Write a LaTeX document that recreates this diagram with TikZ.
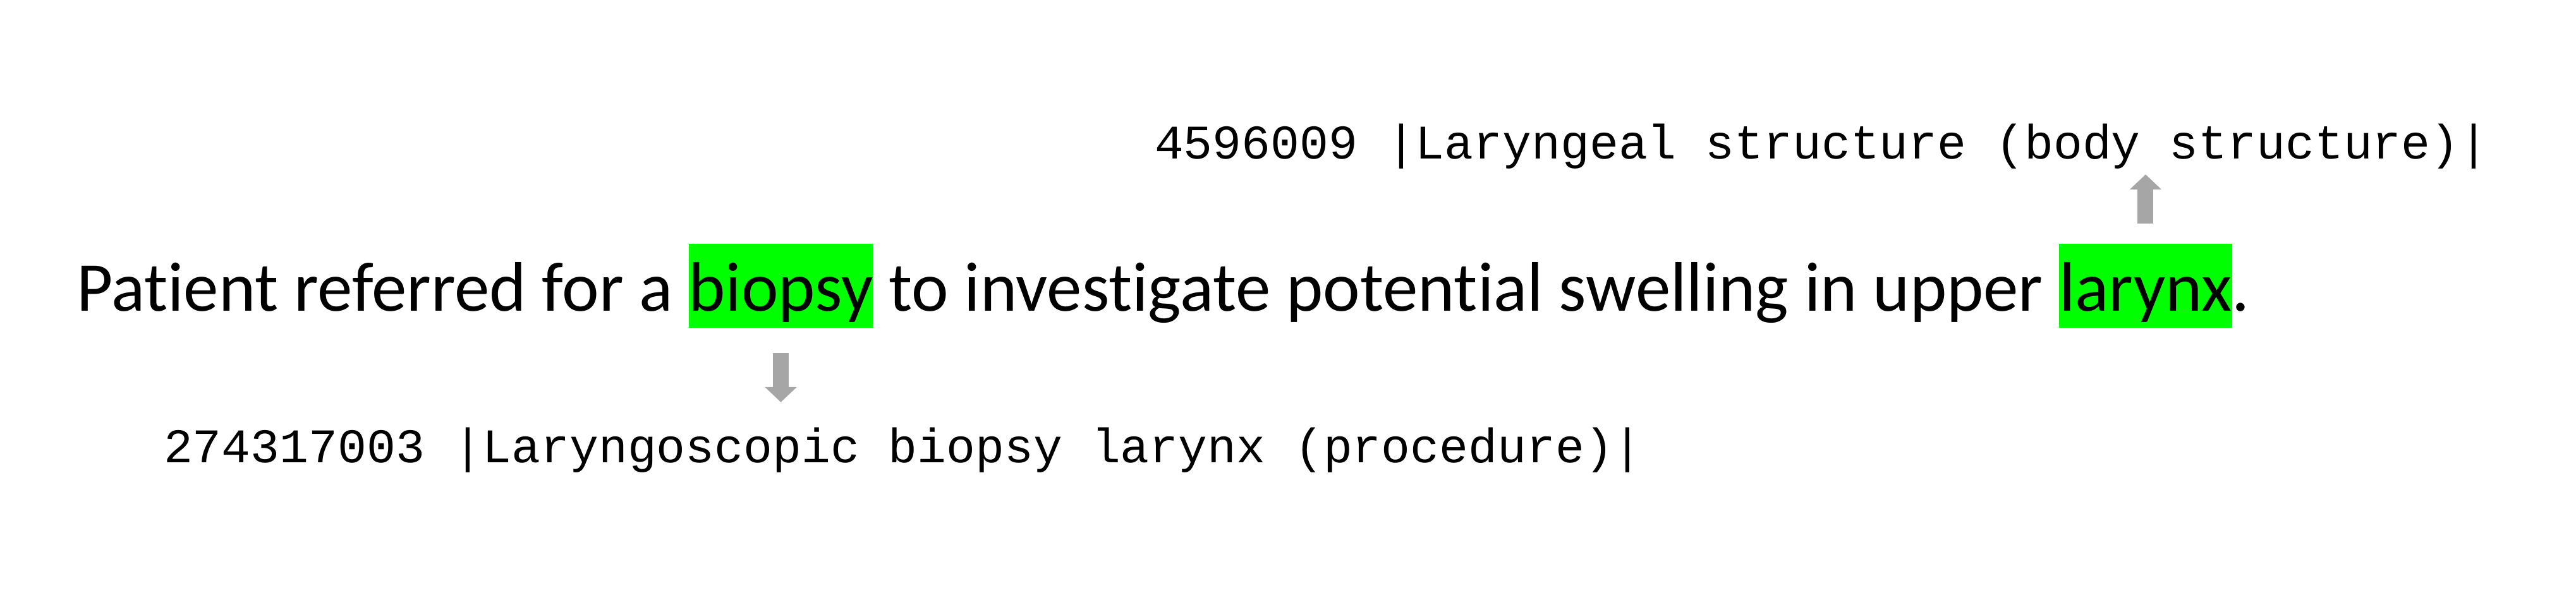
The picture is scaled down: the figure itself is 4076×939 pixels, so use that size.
\documentclass[tikz,border=0pt]{standalone}
\usepackage{fontspec}
\usepackage{tikz}
\usetikzlibrary{arrows.meta,positioning}
\newfontfamily\bodyfont{Carlito}[Ligatures={NoCommon}]
\newfontfamily\codefont{Liberation Mono}
\definecolor{hlgreen}{HTML}{00FF00}
\definecolor{arrowgray}{HTML}{A6A6A6}
\tikzset{
    word/.style={inner sep=0pt, outer sep=0pt,
        font=\bodyfont\fontsize{28.85pt}{34pt}\selectfont},
    hl/.style={word, fill=hlgreen, text height=27.8pt, text depth=6.8pt},
    code/.style={inner sep=0pt, outer sep=0pt, anchor=base west,
        text height=14.9pt, text depth=5pt,
        font=\codefont\fontsize{19.88pt}{24pt}\selectfont},
    blockarrow/.style={-{Triangle[width=12.7pt,length=6.2pt]},
        line width=6.5pt, draw=arrowgray, fill=arrowgray}
}

\begin{document}
\begin{tikzpicture}[x=0.26pt, y=-0.26pt]
    \useasboundingbox (0,0) rectangle (4076,939);
    % sentence
    \node[word, anchor=base west] (pre) at (121,493) {Patient referred for a};
    \node[hl, base right=6.5pt of pre] (biopsy) {biopsy};
    \node[word, base right=6.5pt of biopsy] (mid) {to investigate potential swelling in upper};
    \node[hl, base right=6.5pt of mid] (larynx) {larynx};
    \node[word, base right=0pt of larynx] (stop) {.};
    % concept codes
    \node[code] (cbot) at (259,733) {274317003 |Laryngoscopic biopsy larynx (procedure)|};
    \node[code] (ctop) at (1827,252) {4596009 |Laryngeal structure (body structure)|};
    \path (biopsy.south) edge[blockarrow, shorten <=10.4pt, shorten >=10.1pt] (biopsy.south |- cbot.north)
        (larynx.north) edge[blockarrow, shorten <=8.3pt, shorten >=1.3pt] (larynx.north |- ctop.south);
\end{tikzpicture}
\end{document}
